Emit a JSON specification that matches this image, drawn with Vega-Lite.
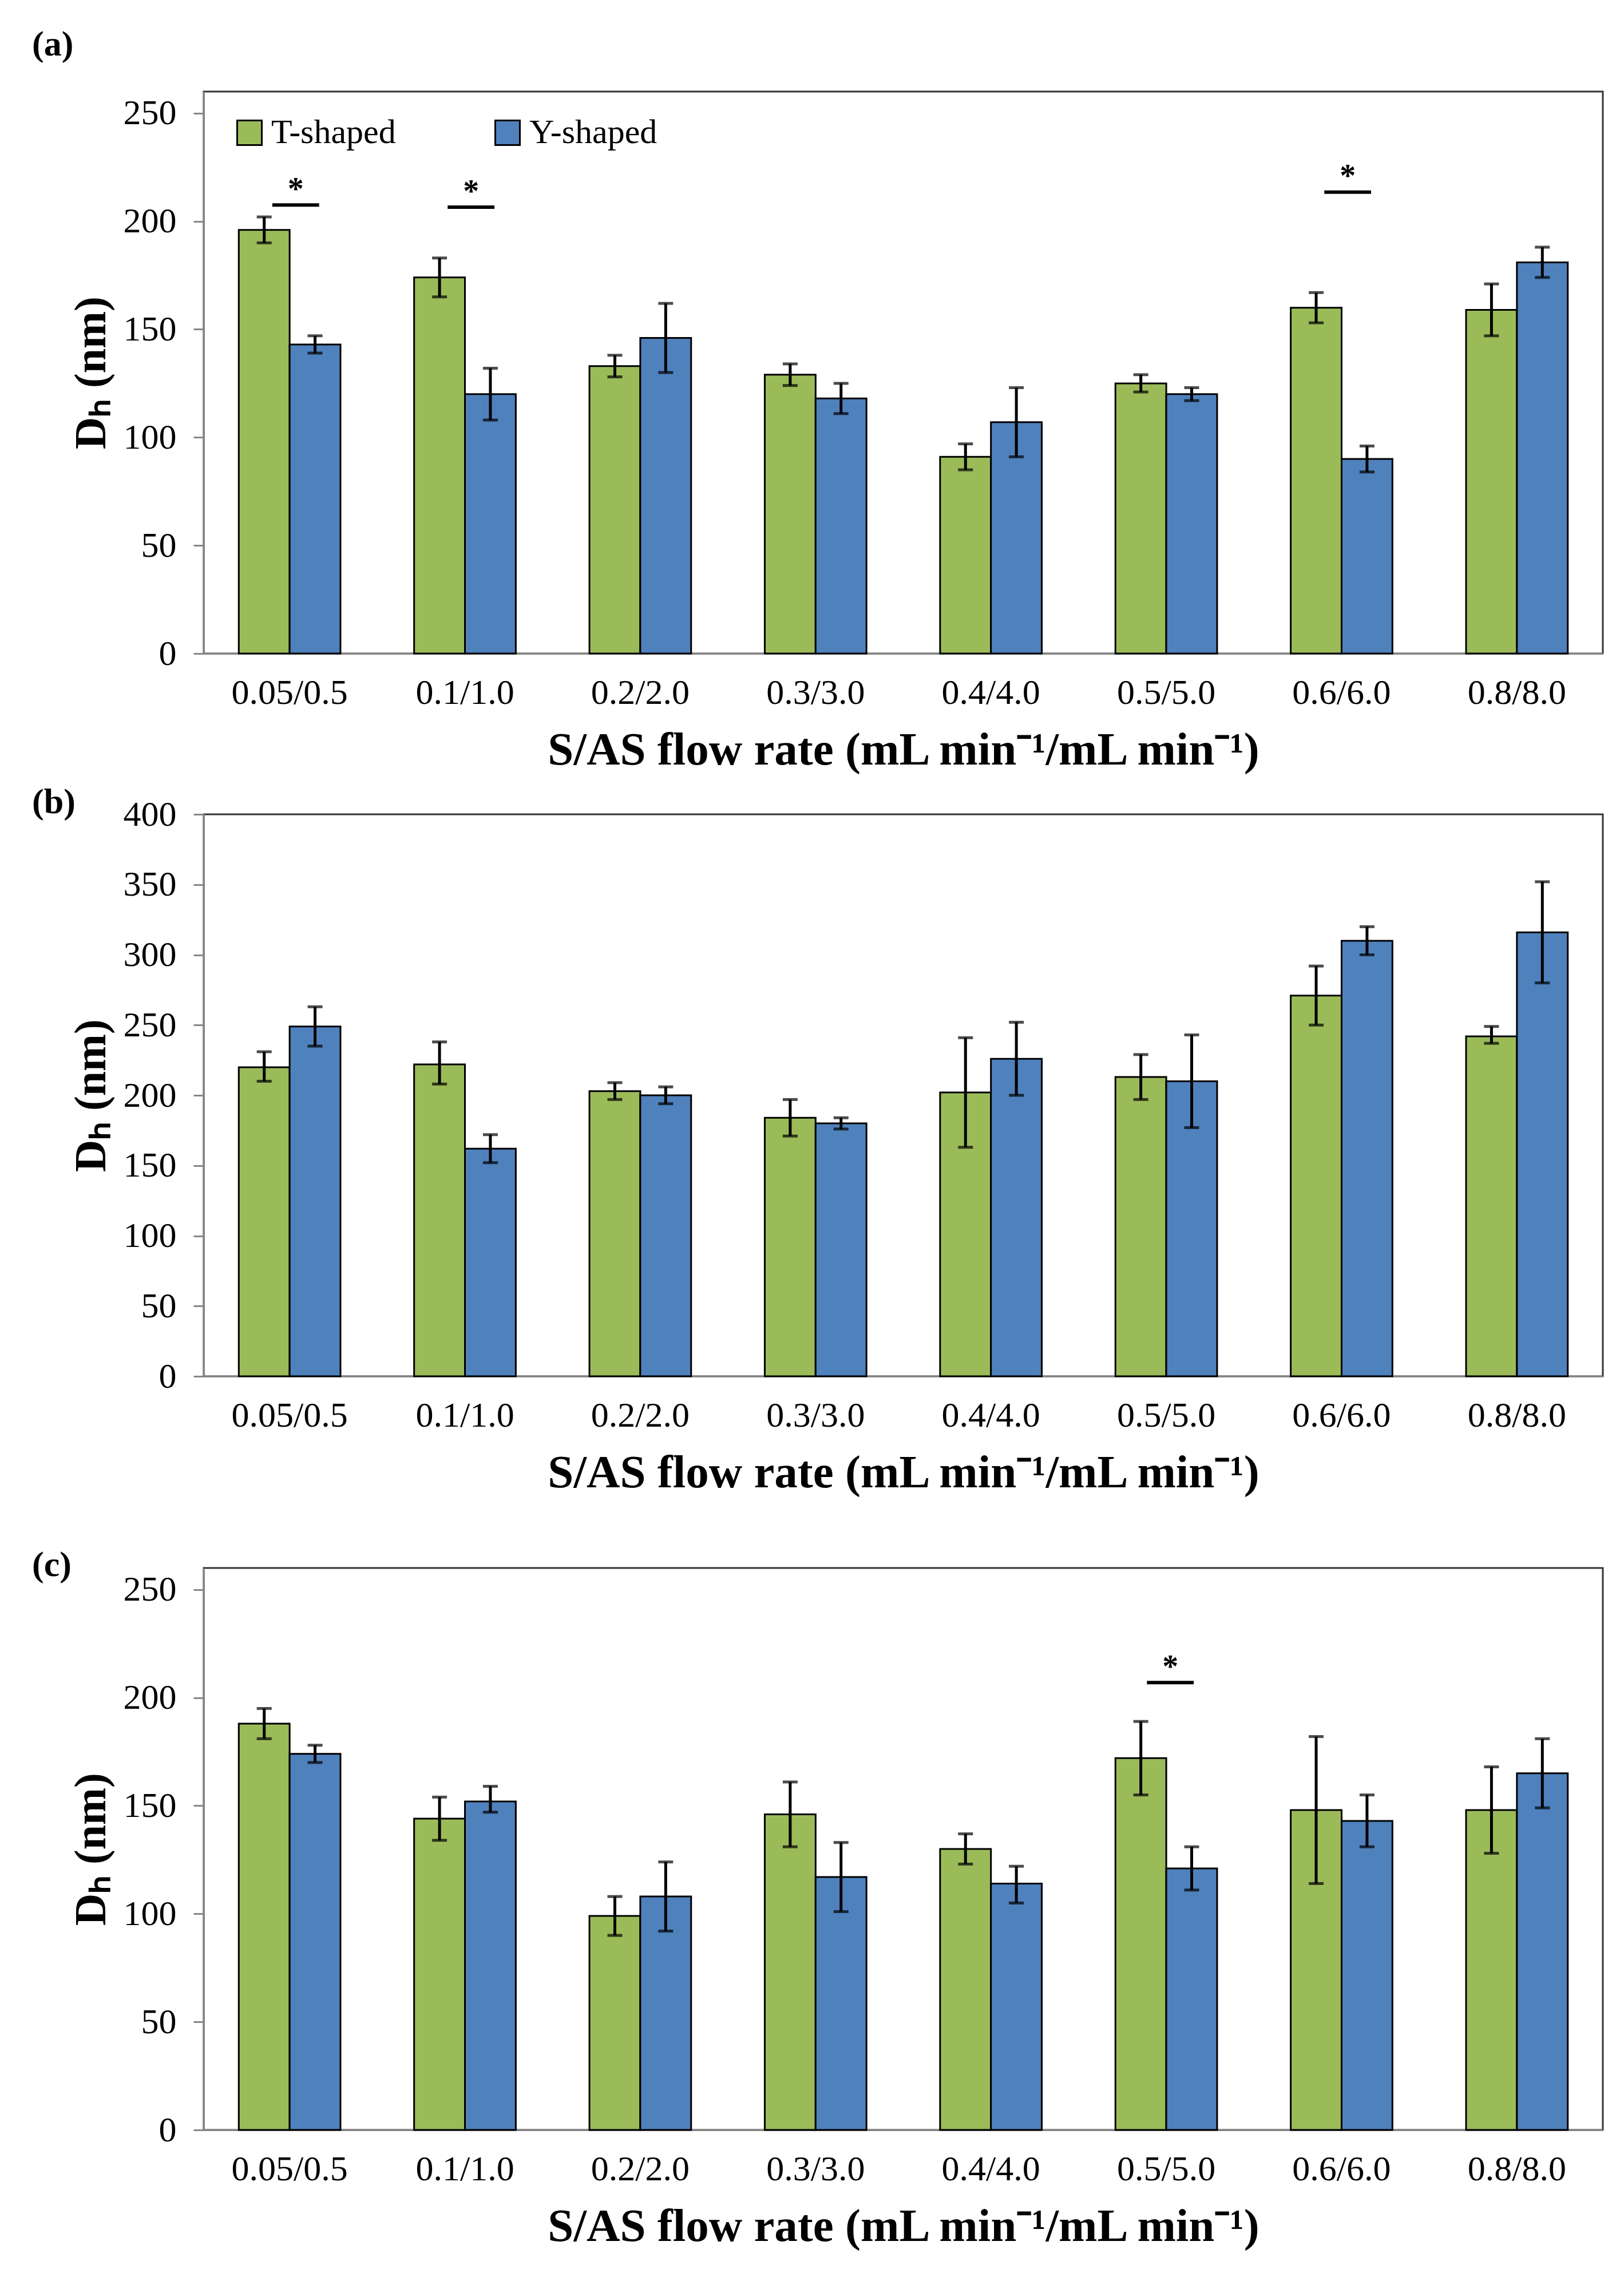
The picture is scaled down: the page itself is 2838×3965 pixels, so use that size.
{
  "$schema": "https://vega.github.io/schema/vega-lite/v6.json",
  "padding": {"left": 54, "top": 45, "right": 20, "bottom": 20},
  "background": "white",
  "config": {
    "font": "Liberation Serif",
    "view": {"stroke": "#333333", "strokeWidth": 3},
    "axis": {"labelFont": "Liberation Serif", "labelFontSize": 62, "labelColor": "black", "labelLimit": 0, "titleFont": "Liberation Serif", "titleFontWeight": "bold", "titleColor": "black", "domainColor": "#868686", "domainWidth": 3, "tickColor": "#868686", "tickWidth": 3, "grid": false, "titleLimit": 0},
    "axisX": {"ticks": false, "labelAngle": 0, "labelPadding": 38, "titleFontSize": 81, "titlePadding": 30},
    "axisY": {"tickSize": 18, "labelPadding": 30, "titleFontSize": 78, "titlePadding": 16},
    "title": {"font": "Liberation Serif", "fontSize": 62, "fontWeight": "bold", "color": "black", "anchor": "start", "frame": "bounds"}
  },
  "datasets": {
    "a": [
      {"rate": "0.05/0.5", "type": "T-shaped", "mean": 196, "lo": 190, "hi": 202},
      {"rate": "0.05/0.5", "type": "Y-shaped", "mean": 143, "lo": 139, "hi": 147},
      {"rate": "0.1/1.0", "type": "T-shaped", "mean": 174, "lo": 165, "hi": 183},
      {"rate": "0.1/1.0", "type": "Y-shaped", "mean": 120, "lo": 108, "hi": 132},
      {"rate": "0.2/2.0", "type": "T-shaped", "mean": 133, "lo": 128, "hi": 138},
      {"rate": "0.2/2.0", "type": "Y-shaped", "mean": 146, "lo": 130, "hi": 162},
      {"rate": "0.3/3.0", "type": "T-shaped", "mean": 129, "lo": 124, "hi": 134},
      {"rate": "0.3/3.0", "type": "Y-shaped", "mean": 118, "lo": 111, "hi": 125},
      {"rate": "0.4/4.0", "type": "T-shaped", "mean": 91, "lo": 85, "hi": 97},
      {"rate": "0.4/4.0", "type": "Y-shaped", "mean": 107, "lo": 91, "hi": 123},
      {"rate": "0.5/5.0", "type": "T-shaped", "mean": 125, "lo": 121, "hi": 129},
      {"rate": "0.5/5.0", "type": "Y-shaped", "mean": 120, "lo": 117, "hi": 123},
      {"rate": "0.6/6.0", "type": "T-shaped", "mean": 160, "lo": 153, "hi": 167},
      {"rate": "0.6/6.0", "type": "Y-shaped", "mean": 90, "lo": 84, "hi": 96},
      {"rate": "0.8/8.0", "type": "T-shaped", "mean": 159, "lo": 147, "hi": 171},
      {"rate": "0.8/8.0", "type": "Y-shaped", "mean": 181, "lo": 174, "hi": 188}
    ],
    "b": [
      {"rate": "0.05/0.5", "type": "T-shaped", "mean": 220, "lo": 210, "hi": 231},
      {"rate": "0.05/0.5", "type": "Y-shaped", "mean": 249, "lo": 235, "hi": 263},
      {"rate": "0.1/1.0", "type": "T-shaped", "mean": 222, "lo": 208, "hi": 238},
      {"rate": "0.1/1.0", "type": "Y-shaped", "mean": 162, "lo": 152, "hi": 172},
      {"rate": "0.2/2.0", "type": "T-shaped", "mean": 203, "lo": 197, "hi": 209},
      {"rate": "0.2/2.0", "type": "Y-shaped", "mean": 200, "lo": 194, "hi": 206},
      {"rate": "0.3/3.0", "type": "T-shaped", "mean": 184, "lo": 171, "hi": 197},
      {"rate": "0.3/3.0", "type": "Y-shaped", "mean": 180, "lo": 176, "hi": 184},
      {"rate": "0.4/4.0", "type": "T-shaped", "mean": 202, "lo": 163, "hi": 241},
      {"rate": "0.4/4.0", "type": "Y-shaped", "mean": 226, "lo": 200, "hi": 252},
      {"rate": "0.5/5.0", "type": "T-shaped", "mean": 213, "lo": 197, "hi": 229},
      {"rate": "0.5/5.0", "type": "Y-shaped", "mean": 210, "lo": 177, "hi": 243},
      {"rate": "0.6/6.0", "type": "T-shaped", "mean": 271, "lo": 250, "hi": 292},
      {"rate": "0.6/6.0", "type": "Y-shaped", "mean": 310, "lo": 300, "hi": 320},
      {"rate": "0.8/8.0", "type": "T-shaped", "mean": 242, "lo": 237, "hi": 249},
      {"rate": "0.8/8.0", "type": "Y-shaped", "mean": 316, "lo": 280, "hi": 352}
    ],
    "c": [
      {"rate": "0.05/0.5", "type": "T-shaped", "mean": 188, "lo": 181, "hi": 195},
      {"rate": "0.05/0.5", "type": "Y-shaped", "mean": 174, "lo": 170, "hi": 178},
      {"rate": "0.1/1.0", "type": "T-shaped", "mean": 144, "lo": 134, "hi": 154},
      {"rate": "0.1/1.0", "type": "Y-shaped", "mean": 152, "lo": 147, "hi": 159},
      {"rate": "0.2/2.0", "type": "T-shaped", "mean": 99, "lo": 90, "hi": 108},
      {"rate": "0.2/2.0", "type": "Y-shaped", "mean": 108, "lo": 92, "hi": 124},
      {"rate": "0.3/3.0", "type": "T-shaped", "mean": 146, "lo": 131, "hi": 161},
      {"rate": "0.3/3.0", "type": "Y-shaped", "mean": 117, "lo": 101, "hi": 133},
      {"rate": "0.4/4.0", "type": "T-shaped", "mean": 130, "lo": 123, "hi": 137},
      {"rate": "0.4/4.0", "type": "Y-shaped", "mean": 114, "lo": 105, "hi": 122},
      {"rate": "0.5/5.0", "type": "T-shaped", "mean": 172, "lo": 155, "hi": 189},
      {"rate": "0.5/5.0", "type": "Y-shaped", "mean": 121, "lo": 111, "hi": 131},
      {"rate": "0.6/6.0", "type": "T-shaped", "mean": 148, "lo": 114, "hi": 182},
      {"rate": "0.6/6.0", "type": "Y-shaped", "mean": 143, "lo": 131, "hi": 155},
      {"rate": "0.8/8.0", "type": "T-shaped", "mean": 148, "lo": 128, "hi": 168},
      {"rate": "0.8/8.0", "type": "Y-shaped", "mean": 165, "lo": 149, "hi": 181}
    ],
    "sig_a": [
      {"rate": "0.05/0.5", "line": 207.5, "star": 214.5},
      {"rate": "0.1/1.0", "line": 206.5, "star": 213.5},
      {"rate": "0.6/6.0", "line": 213.5, "star": 220.5}
    ],
    "sig_c": [
      {"rate": "0.5/5.0", "line": 207, "star": 214}
    ]
  },
  "resolve": {"scale": {"x": "independent", "y": "independent", "color": "independent"}},
  "spacing": 16,
  "vconcat": [
    {
      "width": 2445, "height": 982,
      "title": {"text": "(a)", "offset": 50, "dx": -65},
      "layer": [
        {"data": {"name": "a"}, "mark": {"type": "bar", "stroke": "black", "strokeWidth": 3},
         "encoding": {
           "x": {"field": "rate", "type": "nominal", "sort": null, "scale": {"paddingInner": 0.42, "paddingOuter": 0.2}, "title": "S/AS flow rate (mL min⁻¹/mL min⁻¹)"},
           "xOffset": {"field": "type", "type": "nominal"},
           "y": {"field": "mean", "type": "quantitative", "scale": {"domain": [0, 250]}, "axis": {"values": [0, 50, 100, 150, 200, 250]}, "title": "Dₕ (nm)"},
           "color": {"field": "type", "type": "nominal", "scale": {"domain": ["T-shaped", "Y-shaped"], "range": ["#9BBB59", "#4F81BD"]},
             "legend": {"orient": "none", "legendX": 50, "legendY": 42, "direction": "horizontal", "title": null, "labelFontSize": 60, "labelFont": "Liberation Serif", "labelColor": "black", "labelLimit": 0, "symbolType": "square", "symbolSize": 1850, "symbolStrokeColor": "black", "symbolStrokeWidth": 3, "symbolOpacity": 1, "labelOffset": 8, "columnPadding": 165}}
         }},
        {"data": {"name": "a"}, "mark": {"type": "rule", "color": "black", "strokeWidth": 5},
         "encoding": {"x": {"field": "rate", "type": "nominal", "sort": null}, "xOffset": {"field": "type", "type": "nominal"}, "y": {"field": "lo", "type": "quantitative"}, "y2": {"field": "hi"}}},
        {"data": {"name": "a"}, "mark": {"type": "tick", "color": "black", "thickness": 5, "size": 26},
         "encoding": {"x": {"field": "rate", "type": "nominal", "sort": null}, "xOffset": {"field": "type", "type": "nominal"}, "y": {"field": "lo", "type": "quantitative"}}},
        {"data": {"name": "a"}, "mark": {"type": "tick", "color": "black", "thickness": 5, "size": 26},
         "encoding": {"x": {"field": "rate", "type": "nominal", "sort": null}, "xOffset": {"field": "type", "type": "nominal"}, "y": {"field": "hi", "type": "quantitative"}}},
        {"data": {"name": "sig_a"}, "mark": {"type": "rule", "color": "black", "strokeWidth": 6},
         "encoding": {"x": {"field": "rate", "type": "nominal", "sort": null, "bandPosition": 0.33}, "x2": {"field": "rate", "bandPosition": 0.79}, "y": {"field": "line", "type": "quantitative"}}},
        {"data": {"name": "sig_a"}, "mark": {"type": "text", "color": "black", "fontSize": 56, "font": "Liberation Serif", "fontWeight": "bold", "baseline": "middle"},
         "encoding": {"x": {"field": "rate", "type": "nominal", "sort": null, "bandPosition": 0.56}, "y": {"field": "star", "type": "quantitative"}, "text": {"value": "*"}}}
      ]
    },
    {
      "resolve": {"scale": {"x": "independent", "y": "independent", "color": "independent"}},
      "spacing": 86,
      "vconcat": [
        {
          "width": 2445, "height": 982,
          "title": {"text": "(b)", "offset": -42, "dx": -65},
          "layer": [
            {"data": {"name": "b"}, "mark": {"type": "bar", "stroke": "black", "strokeWidth": 3},
             "encoding": {
               "x": {"field": "rate", "type": "nominal", "sort": null, "scale": {"paddingInner": 0.42, "paddingOuter": 0.2}, "title": "S/AS flow rate (mL min⁻¹/mL min⁻¹)"},
               "xOffset": {"field": "type", "type": "nominal"},
               "y": {"field": "mean", "type": "quantitative", "scale": {"domain": [0, 400]}, "axis": {"values": [0, 50, 100, 150, 200, 250, 300, 350, 400]}, "title": "Dₕ (nm)"},
               "color": {"field": "type", "type": "nominal", "scale": {"domain": ["T-shaped", "Y-shaped"], "range": ["#9BBB59", "#4F81BD"]}, "legend": null}
             }},
            {"data": {"name": "b"}, "mark": {"type": "rule", "color": "black", "strokeWidth": 5},
             "encoding": {"x": {"field": "rate", "type": "nominal", "sort": null}, "xOffset": {"field": "type", "type": "nominal"}, "y": {"field": "lo", "type": "quantitative"}, "y2": {"field": "hi"}}},
            {"data": {"name": "b"}, "mark": {"type": "tick", "color": "black", "thickness": 5, "size": 26},
             "encoding": {"x": {"field": "rate", "type": "nominal", "sort": null}, "xOffset": {"field": "type", "type": "nominal"}, "y": {"field": "lo", "type": "quantitative"}}},
            {"data": {"name": "b"}, "mark": {"type": "tick", "color": "black", "thickness": 5, "size": 26},
             "encoding": {"x": {"field": "rate", "type": "nominal", "sort": null}, "xOffset": {"field": "type", "type": "nominal"}, "y": {"field": "hi", "type": "quantitative"}}}
          ]
        },
        {
          "width": 2445, "height": 982,
          "title": {"text": "(c)", "offset": -27, "dx": -65},
          "layer": [
            {"data": {"name": "c"}, "mark": {"type": "bar", "stroke": "black", "strokeWidth": 3},
             "encoding": {
               "x": {"field": "rate", "type": "nominal", "sort": null, "scale": {"paddingInner": 0.42, "paddingOuter": 0.2}, "title": "S/AS flow rate (mL min⁻¹/mL min⁻¹)"},
               "xOffset": {"field": "type", "type": "nominal"},
               "y": {"field": "mean", "type": "quantitative", "scale": {"domain": [0, 250]}, "axis": {"values": [0, 50, 100, 150, 200, 250]}, "title": "Dₕ (nm)"},
               "color": {"field": "type", "type": "nominal", "scale": {"domain": ["T-shaped", "Y-shaped"], "range": ["#9BBB59", "#4F81BD"]}, "legend": null}
             }},
            {"data": {"name": "c"}, "mark": {"type": "rule", "color": "black", "strokeWidth": 5},
             "encoding": {"x": {"field": "rate", "type": "nominal", "sort": null}, "xOffset": {"field": "type", "type": "nominal"}, "y": {"field": "lo", "type": "quantitative"}, "y2": {"field": "hi"}}},
            {"data": {"name": "c"}, "mark": {"type": "tick", "color": "black", "thickness": 5, "size": 26},
             "encoding": {"x": {"field": "rate", "type": "nominal", "sort": null}, "xOffset": {"field": "type", "type": "nominal"}, "y": {"field": "lo", "type": "quantitative"}}},
            {"data": {"name": "c"}, "mark": {"type": "tick", "color": "black", "thickness": 5, "size": 26},
             "encoding": {"x": {"field": "rate", "type": "nominal", "sort": null}, "xOffset": {"field": "type", "type": "nominal"}, "y": {"field": "hi", "type": "quantitative"}}},
            {"data": {"name": "sig_c"}, "mark": {"type": "rule", "color": "black", "strokeWidth": 6},
             "encoding": {"x": {"field": "rate", "type": "nominal", "sort": null, "bandPosition": 0.31}, "x2": {"field": "rate", "bandPosition": 0.77}, "y": {"field": "line", "type": "quantitative"}}},
            {"data": {"name": "sig_c"}, "mark": {"type": "text", "color": "black", "fontSize": 56, "font": "Liberation Serif", "fontWeight": "bold", "baseline": "middle"},
             "encoding": {"x": {"field": "rate", "type": "nominal", "sort": null, "bandPosition": 0.54}, "y": {"field": "star", "type": "quantitative"}, "text": {"value": "*"}}}
          ]
        }
      ]
    }
  ]
}
